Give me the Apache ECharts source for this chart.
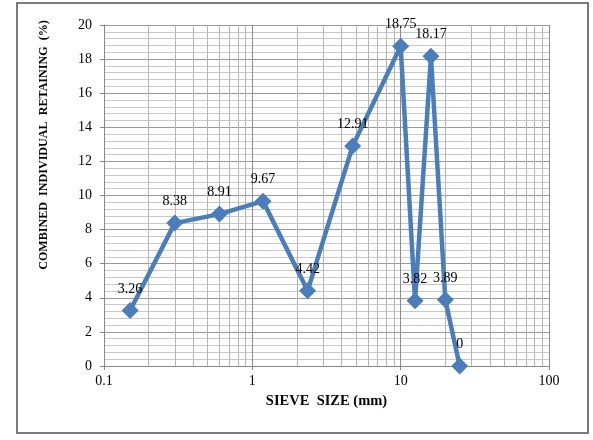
<!DOCTYPE html>
<html>
<head>
<meta charset="utf-8">
<script src="https://cdn.jsdelivr.net/npm/echarts@6/dist/echarts.min.js"></script>
<style>html,body{margin:0;padding:0;background:#fff}#c{width:593px;height:440px}</style>
</head>
<body>
<div id="c"></div>
<script>
var sieveSizes = [0.15, 0.3, 0.6, 1.18, 2.36, 4.75, 10, 12.5, 16, 20, 25];
var retaining = [3.26, 8.38, 8.91, 9.67, 4.42, 12.91, 18.75, 3.82, 18.17, 3.89, 0];
var xMinorGrid = [0.2,0.3,0.4,0.5,0.6,0.7,0.8,0.9,2,3,4,5,6,7,8,9,20,30,40,50,60,70,80,90];
var yTicks = [0,2,4,6,8,10,12,14,16,18,20];

var chart = echarts.init(document.getElementById('c'), null, {renderer:'canvas'});
var serif = '"Liberation Serif","Times New Roman",serif';
chart.setOption({
  backgroundColor:'#fff',
  animation:false,
  grid:{left:104,right:44,top:25,bottom:74},
  graphic:[
    {type:'rect',shape:{x:17,y:3,width:571,height:430},style:{fill:'none',stroke:'#7a7a7a',lineWidth:2},silent:true},
    {type:'text',x:44,y:145,rotation:Math.PI/2,scaleX:0.93,
     style:{text:'COMBINED  INDIVIDUAL  RETAINING  (%)',font:'bold 13px '+serif,fill:'#000',align:'center',verticalAlign:'middle'}}
  ],
  xAxis:{
    type:'log',logBase:10,min:0.1,max:100,
    name:'SIEVE  SIZE (mm)',nameLocation:'middle',nameGap:28,
    nameTextStyle:{fontFamily:serif,fontWeight:'bold',fontSize:14.5,color:'#000'},
    axisLine:{show:true,lineStyle:{color:'#888',width:1}},
    axisTick:{show:true,length:4,lineStyle:{color:'#888'}},
    axisLabel:{fontFamily:serif,fontSize:14,color:'#000',margin:8,formatter:function(v){return String(v);}},
    splitLine:{show:true,lineStyle:{color:'#8c8c8c',width:1}},
    minorTick:{show:false},
    minorSplitLine:{show:false}
  },
  yAxis:{
    type:'value',min:yTicks[0],max:yTicks[yTicks.length-1],interval:2,
    axisLine:{show:true,lineStyle:{color:'#888',width:1}},
    axisTick:{show:true,length:4,lineStyle:{color:'#888'}},
    axisLabel:{fontFamily:serif,fontSize:14,color:'#000',margin:12},
    splitLine:{show:true,lineStyle:{color:'#9a9a9a',width:1}},
    minorTick:{show:false,splitNumber:5},
    minorSplitLine:{show:true,lineStyle:{color:'#c8c8c8',width:1}}
  },
  series:[{
    type:'line',
    data:sieveSizes.map(function(x,i){return [x,retaining[i]];}),
    symbol:'diamond',symbolSize:17,
    lineStyle:{color:'#4a7ebb',width:4.5},
    itemStyle:{color:'#4a7ebb'},
    label:{show:true,position:'top',distance:6,fontFamily:serif,fontSize:14,color:'#000',
      formatter:function(p){return String(p.value[1]);}},
    markLine:{silent:true,symbol:'none',label:{show:false},
      lineStyle:{color:'#b4b4b4',width:1,type:'solid'},
      data:xMinorGrid.map(function(v){return {xAxis:v};})},
    z:5
  }]
});
</script>
</body>
</html>
